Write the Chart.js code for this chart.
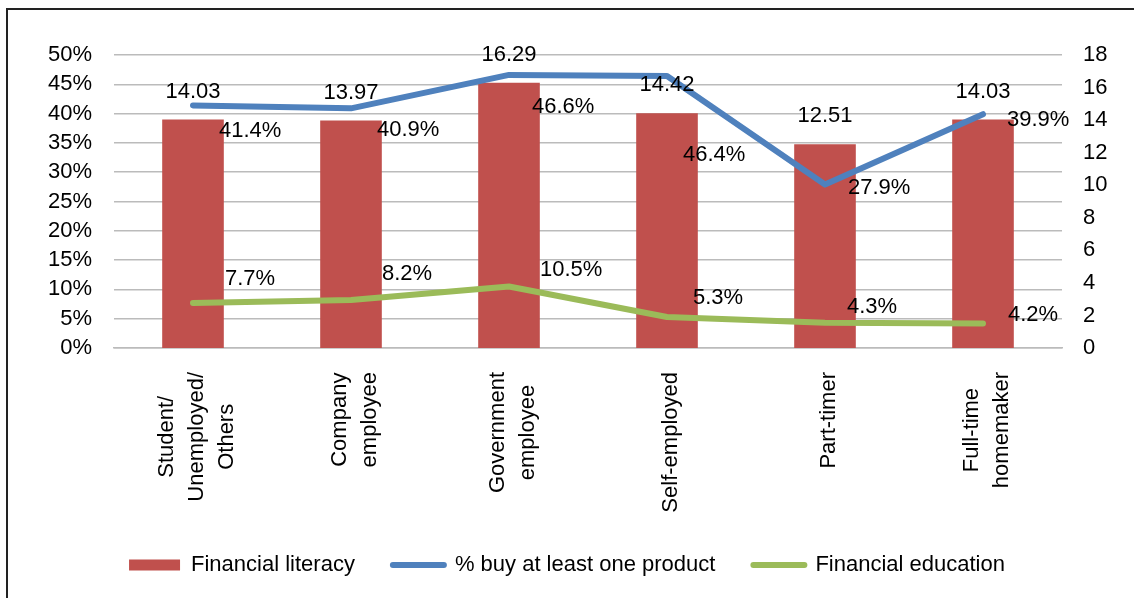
<html>
  <head>
    <script src="https://cdn.jsdelivr.net/npm/chart.js@4.4.1/dist/chart.umd.min.js"></script>
  </head>
  <body>
    <div id="frame"></div>
    <canvas id="chart" width="1134" height="586"></canvas>
    <script>
      // occupation groups on the x axis
      const categories = [
        ['Student/', 'Unemployed/', 'Others'],
        ['Company', 'employee'],
        ['Government', 'employee'],
        'Self-employed',
        'Part-timer',
        ['Full-time', 'homemaker']
      ];
      // bars, right axis
      const financialLiteracy = [14.03, 13.97, 16.29, 14.42, 12.51, 14.03];
      // lines, left axis (%)
      const buyAtLeastOne = [41.4, 40.9, 46.6, 46.4, 27.9, 39.9];
      const financialEducation = [7.7, 8.2, 10.5, 5.3, 4.3, 4.2];

      const FONT = "'Liberation Sans', Arial, sans-serif";

      // value labels, drawn after the datasets
      const valueLabels = {
        id: 'valueLabels',
        afterDatasetsDraw(chart, args, opts) {
          const ctx = chart.ctx;
          ctx.save();
          ctx.font = '22px ' + FONT;
          ctx.fillStyle = '#000';
          ctx.textBaseline = 'middle';
          chart.data.datasets.forEach(function(ds, di) {
            const meta = chart.getDatasetMeta(di);
            meta.data.forEach(function(el, i) {
              const v = ds.data[i];
              if (ds.type === 'bar') {
                ctx.textAlign = 'center';
                ctx.fillText(v.toFixed(2), el.x, el.y - 28);
              } else {
                const off = opts.offsets[di][i];
                ctx.textAlign = 'left';
                ctx.fillText(v.toFixed(1) + '%', el.x + off[0], el.y + off[1]);
              }
            });
          });
          ctx.restore();
        }
      };

      // centre the rotated multi-line category labels like the original
      const centreXLabels = {
        id: 'centreXLabels',
        beforeDraw(chart) {
          const scale = chart.scales.x;
          const ctx = chart.ctx;
          scale.getLabelItems().forEach(function(item, i) {
            if (item._centred) return;
            const lines = [].concat(item.label);
            ctx.save();
            ctx.font = item.font.string;
            const w = Math.max.apply(null, lines.map(function(l) { return ctx.measureText(l).width; }));
            ctx.restore();
            const lh = item.font.lineHeight;
            const t = item.options.translation;
            item.options.translation = [scale.getPixelForTick(i) + 4 - lines.length * lh / 2, t[1] + w / 2];
            item.options.textAlign = 'center';
            item._centred = true;
          });
        }
      };

      Chart.defaults.font.family = FONT;
      Chart.defaults.font.size = 22;
      Chart.defaults.color = '#000';

      const chart = new Chart('chart', {
        type: 'bar',
        data: {
          labels: categories,
          datasets: [
            {
              type: 'bar',
              label: 'Financial literacy',
              data: financialLiteracy,
              yAxisID: 'y1',
              backgroundColor: '#C0504D',
              borderWidth: 0,
              barPercentage: 0.39,
              categoryPercentage: 1,
              order: 2
            },
            {
              type: 'line',
              label: '% buy at least one product',
              data: buyAtLeastOne,
              yAxisID: 'y',
              borderColor: '#4F81BD',
              backgroundColor: '#4F81BD',
              borderWidth: 6,
              pointRadius: 0,
              borderJoinStyle: 'round',
              borderCapStyle: 'round',
              order: 0
            },
            {
              type: 'line',
              label: 'Financial education',
              data: financialEducation,
              yAxisID: 'y',
              borderColor: '#9BBB59',
              backgroundColor: '#9BBB59',
              borderWidth: 6,
              pointRadius: 0,
              borderJoinStyle: 'round',
              borderCapStyle: 'round',
              order: 1
            }
          ]
        },
        options: {
          responsive: false,
          animation: false,
          layout: { padding: { top: 55, left: 0, right: 0, bottom: 0 } },
          scales: {
            x: {
              grid: { display: false, drawTicks: false },
              border: { display: true, color: '#bbbbbb', width: 1.5 },
              ticks: {
                minRotation: 90,
                maxRotation: 90,
                padding: 24,
                autoSkip: false,
                font: { size: 22, lineHeight: 1.36 }
              },
              afterFit: function(s) { s.height = 168; }
            },
            y: {
              position: 'left',
              min: 0,
              max: 50,
              grid: { color: '#bbbbbb', lineWidth: 1.5, drawTicks: false },
              border: { display: false },
              ticks: {
                stepSize: 5,
                padding: 22,
                autoSkip: false,
                callback: function(v) { return v + '%'; }
              },
              afterFit: function(s) { s.width = 114; }
            },
            y1: {
              position: 'right',
              min: 0,
              max: 18,
              grid: { display: false, drawTicks: false },
              border: { display: false },
              ticks: { stepSize: 2, padding: 21, autoSkip: false },
              afterFit: function(s) { s.width = 72; }
            }
          },
          plugins: {
            tooltip: { enabled: false },
            legend: {
              position: 'bottom',
              labels: {
                usePointStyle: true,
                pointStyleWidth: 51,
                boxHeight: 11,
                padding: 38,
                font: { size: 22 },
                sort: function(a, b) { return a.datasetIndex - b.datasetIndex; },
                generateLabels: function(c) {
                  const items = Chart.defaults.plugins.legend.labels.generateLabels(c);
                  items.forEach(function(it) {
                    const ds = c.data.datasets[it.datasetIndex];
                    if (ds.type === 'bar') {
                      it.pointStyle = 'rect';
                      it.fillStyle = ds.backgroundColor;
                      it.lineWidth = 0;
                    } else {
                      it.pointStyle = 'line';
                      it.strokeStyle = ds.borderColor;
                      it.lineWidth = 6;
                      it.lineCap = 'round';
                    }
                  });
                  return items;
                }
              }
            },
            valueLabels: {
              offsets: {
                1: [[26, 26], [26, 22], [23, 32], [16, 79], [23, 3], [24, 6]],
                2: [[32, -24], [31, -26], [31, -17], [26, -19], [22, -16], [25, -8]]
              }
            }
          }
        },
        plugins: [valueLabels, centreXLabels]
      });
    </script>
  </body>
  <style>
    body { margin: 0; overflow: hidden; background: #fff; }
    #frame {
      position: absolute;
      left: 6px;
      top: 8px;
      width: 2000px;
      height: 2000px;
      border: 2px solid #222;
    }
    #chart {
      position: absolute;
      left: 0;
      top: 0;
    }
  </style>
</html>
